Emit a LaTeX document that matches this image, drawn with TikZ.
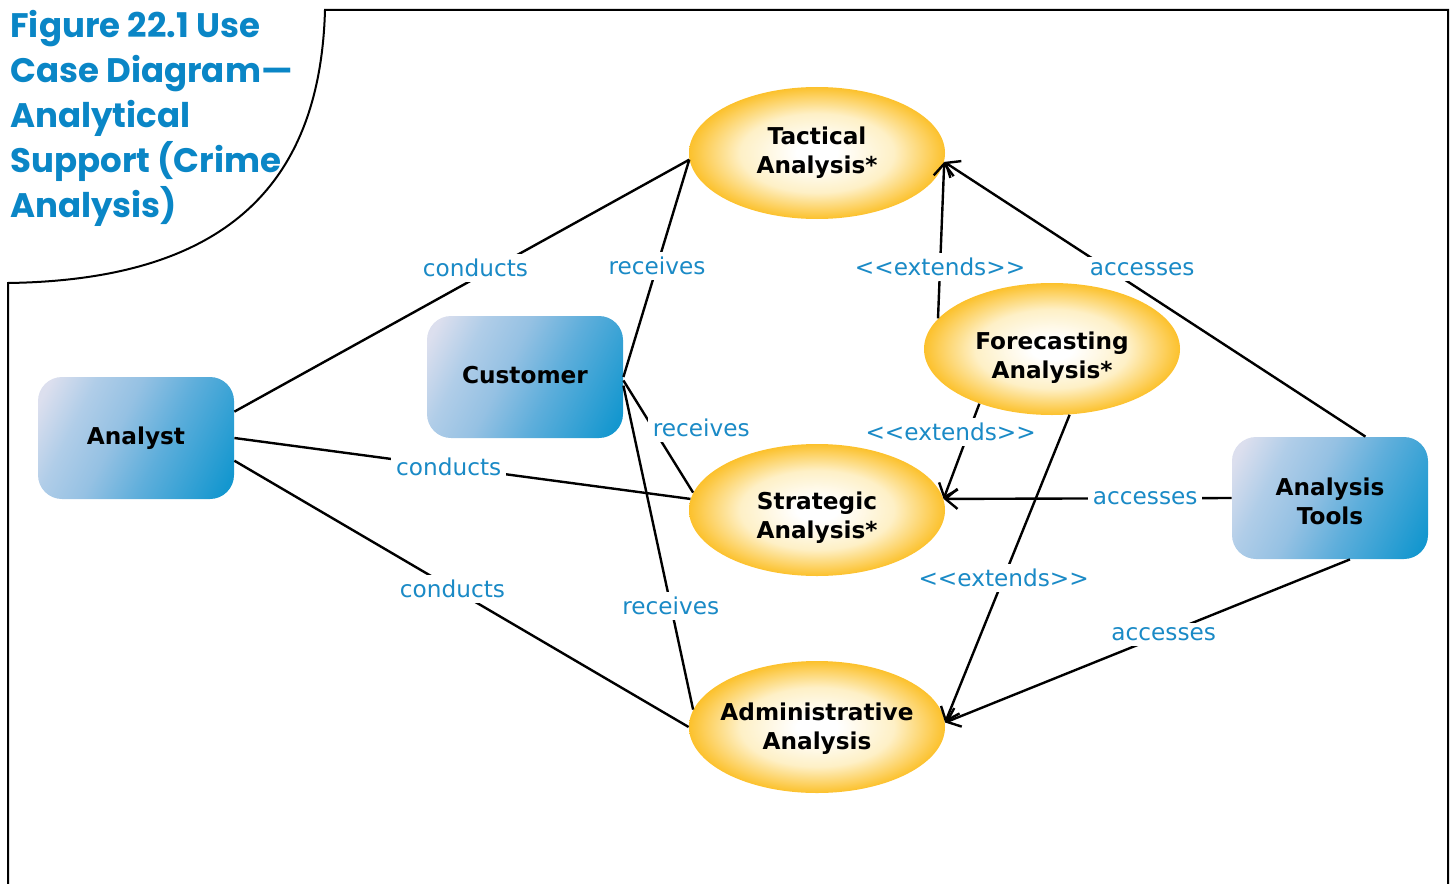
\documentclass[tikz,border=0pt]{standalone}
\usepackage{fontspec}
\setmainfont{DejaVu Sans}
\newfontfamily\titlefont{Poppins}
\usepackage{xcolor}
\usepackage{tikz}
\usetikzlibrary{shapes.geometric,arrows.meta}
\definecolor{labelblue}{HTML}{1A8AC6}
\definecolor{titleblue}{HTML}{0A86C6}
\definecolor{gold}{HTML}{FCC12C}
\definecolor{goldpale}{HTML}{FEF0C6}
\definecolor{actlight}{HTML}{DCDFEE}
\definecolor{actpale}{HTML}{B0CDE8}
\definecolor{actmid}{HTML}{95C1E3}
\definecolor{actblue}{HTML}{5EAEDB}
\definecolor{actdark}{HTML}{1497CF}
\pgfdeclareradialshading{caseshade}{\pgfpointorigin}{color(0bp)=(white); color(4bp)=(white); color(15bp)=(goldpale); color(25bp)=(gold); color(50bp)=(gold)}
\pgfdeclarehorizontalshading{actorshade}{100bp}{color(0bp)=(actlight); color(20bp)=(actlight); color(32bp)=(actpale); color(44bp)=(actmid); color(58bp)=(actblue); color(80bp)=(actdark); color(100bp)=(actdark)}
% lower the ink of a line without changing its box
\newcommand{\sunk}[2]{\raisebox{-#1}[\height][\depth]{#2}}
\tikzset{
  frameline/.style={draw=black, line width=1pt},
  link/.style={draw=black, line width=1.2pt},
  dep/.style={link, -{Straight Barb[length=6pt,width=10pt]}},
  lab/.style={text=labelblue, fill=white, inner sep=2.5pt, font=\fontsize{11.6}{14}\selectfont},
  actor/.style={rectangle, rounded corners=12pt, shading=actorshade, shading angle=-27,
    minimum width=98pt, minimum height=61pt,
    inner sep=0pt, align=center, font=\fontsize{11.6}{14.5}\selectfont\bfseries},
  usecase/.style={ellipse, shading=caseshade, minimum width=128pt, minimum height=66pt,
    inner sep=0pt, inner xsep=-4pt, align=center, font=\fontsize{11.6}{14.5}\selectfont\bfseries},
  figtitle/.style={text=titleblue, align=left, inner sep=0pt, font=\fontsize{17}{22.5}\selectfont\titlefont\bfseries},
}

\begin{document}
\begin{tikzpicture}[x=0.5pt, y=-0.5pt]
  \useasboundingbox (0,0) rectangle (1455,883);

  % frame with the rounded cut-out for the title
  \draw[frameline] (8,890) -- (8,283) .. controls (220,280) and (320,190) .. (325,10)
    -- (1448,10) -- (1448,890);
  \node[figtitle, anchor=north west] (title) at (10,10)
    {Figure 22.1 Use\\Case Diagram—\\Analytical\\Support (Crime\\Analysis)};

  % actors
  \node[actor] (analyst) at (136,438) {Analyst};
  \node[actor] (customer) at (525,377) {\raisebox{2.5pt}{Customer}};
  \node[actor] (tools) at (1330,498) {\sunk{1.5pt}{Analysis}\\\sunk{1.5pt}{Tools}};

  % use cases
  \node[usecase] (tactical) at (817,153) {Tactical\\Analysis*};
  \node[usecase] (forecast) at (1052,349) {\sunk{4.5pt}{Forecasting}\\\sunk{4.5pt}{Analysis*}};
  \node[usecase] (strategic) at (817,510) {\sunk{4pt}{Strategic}\\\sunk{4pt}{Analysis*}};
  \node[usecase] (admin) at (817,727) {\sunk{1pt}{Administrative}\\\sunk{1pt}{Analysis}};

  % analyst
  \draw[link] (analyst.15) -- (tactical.183) node[lab, pos=0.53, yshift=5pt] {conducts};
  \draw[link] (analyst.east) -- (strategic.175) node[lab, pos=0.47] {conducts};
  \draw[link] (analyst.-13) -- (admin.west) node[lab, pos=0.48] {conducts};

  % customer
  \draw[link] (customer.east) -- (tactical.183) node[lab, pos=0.51] {receives};
  \draw[link] (customer.-2) -- (strategic.172) node[lab, pos=0.42, anchor=west, xshift=-3pt] {receives};
  \draw[link] (customer.-5) -- (admin.172) node[lab, pos=0.68] {receives};

  % extends
  \draw[dep] (forecast.165) -- (tactical.-4) node[lab, pos=0.33] {<\kern0pt<extends>\kern0pt>};
  \draw[dep] (forecast.217) -- (strategic.5) node[lab, pos=0.3, xshift=-9pt] {<\kern0pt<extends>\kern0pt>};
  \draw[dep] (forecast.-75) -- (admin.2) node[lab, pos=0.53] {<\kern0pt<extends>\kern0pt>};

  % analysis tools
  \draw[dep] (tools.60) -- (tactical.-4) node[lab, pos=0.53, yshift=11pt] {accesses};
  \draw[dep] (tools.west) -- (strategic.5) node[lab, pos=0.3] {accesses};
  \draw[dep] (tools.-72) -- (admin.2) node[lab, pos=0.46] {accesses};
\end{tikzpicture}
\end{document}
